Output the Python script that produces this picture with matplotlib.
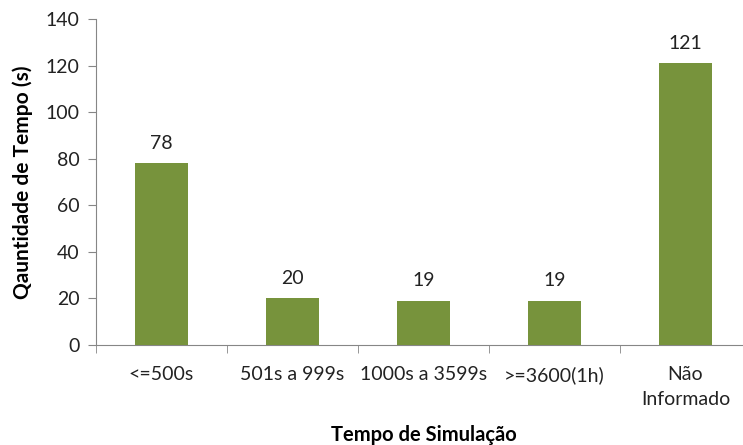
import numpy as np
import matplotlib.pyplot as plt

categories = ['<=500s', '501s a 999s', '1000s a 3599s', '>=3600(1h)', 'Não\nInformado']
values = [78, 20, 19, 19, 121]

plt.rcParams['font.family'] = ['Lato', 'DejaVu Sans']

fig = plt.figure(figsize=(7.43, 4.45), dpi=100)
ax = fig.add_axes([96 / 743, 100 / 445, 655 / 743, 326 / 445])

x = np.arange(len(categories))
ax.bar(x, values, width=0.40, color='#77933C', zorder=3)
for xi, v in zip(x, values):
    ax.text(xi, v + 5, str(v), ha='center', va='bottom', fontsize=14, color='#222222')

ax.set_xlim(-0.5, len(categories) - 0.5)
ax.set_ylim(0, 140)
ax.set_yticks(np.arange(0, 141, 20))
ax.set_xticks(x)
ax.set_xticklabels(categories, fontsize=14, color='#222222', linespacing=1.55)
ax.set_xticks(np.arange(-0.5, len(categories), 1), minor=True)
ax.tick_params(axis='x', which='major', length=0, pad=15)
ax.tick_params(axis='x', which='minor', length=6, color='#868686', direction='out')
ax.tick_params(axis='y', length=6, color='#868686', labelsize=14, labelcolor='#222222', pad=6)

for s in ['top', 'right']:
    ax.spines[s].set_visible(False)
for s in ['left', 'bottom']:
    ax.spines[s].set_color('#868686')

# x title sits near the bottom edge, placed directly
fig.text(423.5 / 743, 10 / 445, 'Tempo de Simulação', ha='center', va='center',
         fontsize=14.5, fontweight='bold')
ax.set_ylabel('Qauntidade de Tempo (s)', fontsize=15, fontweight='bold', labelpad=9)

fig.savefig('out.png', dpi=100)
